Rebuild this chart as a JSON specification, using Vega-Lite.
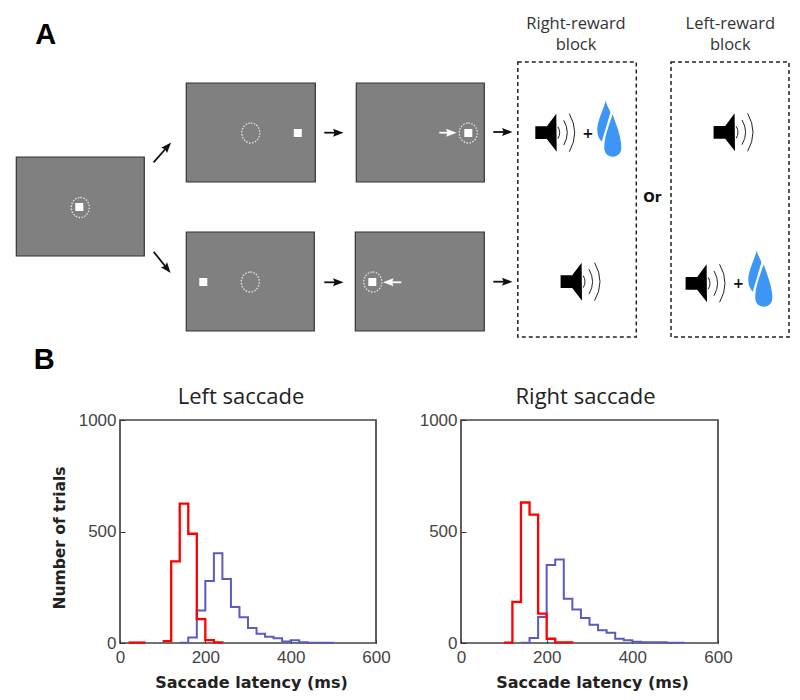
{"$schema":"https://vega.github.io/schema/vega-lite/v6.json","padding":0,"background":"white","spacing":50,"bounds":"flush","config":{"view":{"stroke":null},"axis":{"grid":false}},
"datasets":{
"panels":[{"x":16,"x2":144,"y":157,"y2":256},{"x":186,"x2":315,"y":83,"y2":182},{"x":356,"x2":484,"y":83,"y2":182},{"x":186,"x2":314,"y":232,"y2":331},{"x":355,"x2":484,"y":232,"y2":331}],
"stimuli":[{"x":79,"y":207},{"x":297.5,"y":133},{"x":468,"y":133},{"x":203,"y":282},{"x":372,"y":282}],
"fields":[{"x":80,"y":207.5},{"x":250.5,"y":133},{"x":468,"y":133},{"x":250,"y":282},{"x":372.5,"y":282}],
"arrows":[{"x":153.3,"y":162.3,"x2":167.3,"y2":146.5,"angle":-48,"tone":"dark"},{"x":153.3,"y":251.7,"x2":167,"y2":268.8,"angle":51,"tone":"dark"},{"x":324,"y":132.7,"x2":338,"y2":132.7,"angle":0,"tone":"dark"},{"x":324,"y":282.3,"x2":338,"y2":282.3,"angle":0,"tone":"dark"},{"x":493,"y":132,"x2":507,"y2":132,"angle":0,"tone":"dark"},{"x":493,"y":281.7,"x2":507,"y2":281.7,"angle":0,"tone":"dark"},{"x":439,"y":132.7,"x2":451,"y2":132.7,"angle":0,"tone":"light"},{"x":401,"y":282.3,"x2":388,"y2":282.3,"angle":180,"tone":"light"}],
"boxes":[{"x":517.5,"x2":636,"y":62,"y2":337},{"x":670.7,"x2":788.7,"y":62,"y2":337}],
"speakers":[{"x":555,"y":132.7},{"x":733.3,"y":132.3},{"x":580.3,"y":281.7},{"x":705.3,"y":283.3}],
"drops":[{"x":609,"y":128.7},{"x":760,"y":278.7}],
"labels":[{"x":575.7,"y":23.5,"text":"Right-reward"},{"x":575.7,"y":44.5,"text":"block"},{"x":730,"y":23.5,"text":"Left-reward"},{"x":730,"y":44.5,"text":"block"}],
"letters":[{"x":45.5,"y":35,"text":"A"},{"x":44,"y":360,"text":"B"}],
"small":[{"x":652,"y":198,"text":"Or"},{"x":587.7,"y":134,"text":"+"},{"x":738,"y":284,"text":"+"}],
"leftRed":[{"latency":20,"trials":2,"run":1},{"latency":60,"trials":2,"run":1},{"latency":100,"trials":8,"run":2},{"latency":120,"trials":366,"run":2},{"latency":140,"trials":625,"run":2},{"latency":160,"trials":490,"run":2},{"latency":180,"trials":107,"run":2},{"latency":200,"trials":13,"run":2},{"latency":220,"trials":3,"run":2},{"latency":240,"trials":0,"run":2}],
"leftBlue":[{"latency":140,"trials":1},{"latency":160,"trials":25},{"latency":180,"trials":146},{"latency":200,"trials":278},{"latency":220,"trials":403},{"latency":240,"trials":287},{"latency":260,"trials":161},{"latency":280,"trials":116},{"latency":300,"trials":67},{"latency":320,"trials":42},{"latency":340,"trials":28},{"latency":360,"trials":21},{"latency":380,"trials":7},{"latency":400,"trials":12},{"latency":420,"trials":3},{"latency":440,"trials":1},{"latency":500,"trials":0}],
"rightRed":[{"latency":60,"trials":1,"run":1},{"latency":100,"trials":2,"run":2},{"latency":120,"trials":184,"run":2},{"latency":140,"trials":630,"run":2},{"latency":160,"trials":576,"run":2},{"latency":180,"trials":132,"run":2},{"latency":200,"trials":19,"run":2},{"latency":220,"trials":3,"run":2},{"latency":260,"trials":0,"run":2}],
"rightBlue":[{"latency":140,"trials":1},{"latency":160,"trials":22},{"latency":180,"trials":117},{"latency":200,"trials":350},{"latency":220,"trials":374},{"latency":240,"trials":198},{"latency":260,"trials":150},{"latency":280,"trials":112},{"latency":300,"trials":82},{"latency":320,"trials":57},{"latency":340,"trials":46},{"latency":360,"trials":19},{"latency":380,"trials":12},{"latency":400,"trials":6},{"latency":420,"trials":3},{"latency":480,"trials":1},{"latency":520,"trials":0}]
},
"vconcat":[
{"width":800,"height":370,"encoding":{"x":{"field":"x","type":"quantitative","scale":{"domain":[0.7,800.7],"nice":false,"zero":false},"axis":null},"y":{"field":"y","type":"quantitative","scale":{"domain":[370,0],"nice":false,"zero":false},"axis":null}},
"layer":[
{"data":{"name":"panels"},"mark":{"type":"rect","fill":"#808080","stroke":"#333333","strokeWidth":1.2},"encoding":{"x2":{"field":"x2"},"y2":{"field":"y2"}}},
{"data":{"name":"stimuli"},"mark":{"type":"point","shape":"square","size":64,"filled":true,"color":"white","opacity":1}},
{"data":{"name":"fields"},"mark":{"type":"point","shape":"M0,-1 A0.9,1 0 1,1 0,1 A0.9,1 0 1,1 0,-1 Z","size":400,"filled":false,"stroke":"#e4e4e4","strokeWidth":1.3,"strokeDash":[1.5,1.5],"opacity":1}},
{"data":{"name":"arrows"},"mark":{"type":"rule","strokeWidth":1.8},"encoding":{"x2":{"field":"x2"},"y2":{"field":"y2"},"color":{"field":"tone","type":"nominal","scale":{"domain":["dark","light"],"range":["#111111","#ffffff"]},"legend":null}}},
{"data":{"name":"arrows"},"mark":{"type":"point","shape":"M1,0 L-1,-0.75 L-0.7,0 L-1,0.75 Z","size":110,"filled":true,"opacity":1},"encoding":{"x":{"field":"x2","type":"quantitative"},"y":{"field":"y2","type":"quantitative"},"angle":{"field":"angle","type":"quantitative","scale":null},"color":{"field":"tone","type":"nominal","scale":{"domain":["dark","light"],"range":["#111111","#ffffff"]},"legend":null}}},
{"data":{"name":"boxes"},"mark":{"type":"rect","fill":null,"stroke":"#222222","strokeWidth":1.5,"strokeDash":[4,3]},"encoding":{"x2":{"field":"x2"},"y2":{"field":"y2"}}},
{"data":{"name":"speakers"},"mark":{"type":"point","shape":"M-1,-0.32 L-0.42,-0.32 L0.05,-0.95 L0.07,0.95 L-0.42,0.32 L-1,0.32 Z","size":1600,"filled":true,"color":"#000000","opacity":1}},
{"data":{"name":"speakers"},"mark":{"type":"point","shape":"M0.13,-0.3 Q0.31,0 0.13,0.3 M0.42,-0.62 Q0.78,0 0.42,0.62 M0.7,-0.95 Q1.24,0 0.7,0.95","size":1600,"filled":false,"stroke":"#222222","strokeWidth":1,"opacity":1}},
{"data":{"name":"drops"},"mark":{"type":"point","shape":"M0.12,-0.52 C0.22,-0.2 0.43,0.25 0.43,0.68 C0.43,0.88 0.3,1 0.125,1 C-0.05,1 -0.18,0.88 -0.18,0.68 C-0.18,0.25 0.02,-0.2 0.12,-0.52 Z M-0.13,-1 C-0.08,-0.8 0.02,-0.68 0.04,-0.58 L-0.27,0.47 C-0.38,0.37 -0.43,0.2 -0.43,0.05 C-0.43,-0.3 -0.2,-0.7 -0.13,-1 Z","size":3136,"filled":true,"color":"#3d96f5","opacity":1}},
{"data":{"name":"labels"},"mark":{"type":"text","font":"Open Sans","fontSize":16.5,"color":"#333333"},"encoding":{"text":{"field":"text"}}},
{"data":{"name":"letters"},"mark":{"type":"text","font":"Liberation Sans","fontWeight":"bold","fontSize":29,"color":"#000000"},"encoding":{"text":{"field":"text"}}},
{"data":{"name":"small"},"mark":{"type":"text","font":"DejaVu Sans","fontWeight":"bold","fontSize":13.5,"color":"#111111"},"encoding":{"text":{"field":"text"}}}
]},
{"spacing":85,"bounds":"flush","hconcat":[
{"width":34,"height":223,"data":{"values":[{"a":0}]},"mark":{"type":"rule","opacity":0},"encoding":{}},
{"width":256,"height":223,"view":{"stroke":"#444444","strokeWidth":1.7},"title":{"text":"Left saccade","font":"Open Sans","fontSize":22,"fontWeight":"normal","color":"#222222","anchor":"middle","dx":-7,"offset":2},
"encoding":{"x":{"field":"latency","type":"quantitative","scale":{"domain":[0,600],"nice":false},"axis":{"values":[0,200,400,600],"title":"Saccade latency (ms)","titleX":131,"titleFont":"DejaVu Sans","titleFontWeight":"bold","titleFontSize":16,"titleColor":"#222222","titlePadding":9,"labelFont":"Liberation Sans","labelFontSize":17,"labelColor":"#444444","labelPadding":9,"tickSize":-3,"tickColor":"#333333","domain":false,"labelFlush":false}},
"y":{"field":"trials","type":"quantitative","scale":{"domain":[0,1000],"nice":false},"axis":{"values":[0,500,1000],"format":"d","title":"Number of trials","titleY":117.5,"titleFont":"DejaVu Sans","titleFontWeight":"bold","titleFontSize":15.5,"titleColor":"#222222","titlePadding":11,"labelFont":"Liberation Sans","labelFontSize":17,"labelColor":"#444444","labelPadding":9,"tickSize":-5,"tickColor":"#333333","domain":false}}},
"layer":[{"data":{"name":"leftBlue"},"mark":{"type":"line","interpolate":"step-after","color":"#5a5ac0","strokeWidth":2}},{"data":{"name":"leftRed"},"mark":{"type":"line","interpolate":"step-after","color":"#ff0000","strokeWidth":2.3},"encoding":{"detail":{"field":"run"}}}]},
{"width":257,"height":223,"view":{"stroke":"#444444","strokeWidth":1.7},"title":{"text":"Right saccade","font":"Open Sans","fontSize":22,"fontWeight":"normal","color":"#222222","anchor":"middle","dx":-4,"offset":2},
"encoding":{"x":{"field":"latency","type":"quantitative","scale":{"domain":[0,600],"nice":false},"axis":{"values":[0,200,400,600],"title":"Saccade latency (ms)","titleX":131,"titleFont":"DejaVu Sans","titleFontWeight":"bold","titleFontSize":16,"titleColor":"#222222","titlePadding":9,"labelFont":"Liberation Sans","labelFontSize":17,"labelColor":"#444444","labelPadding":9,"tickSize":-3,"tickColor":"#333333","domain":false,"labelFlush":false}},
"y":{"field":"trials","type":"quantitative","scale":{"domain":[0,1000],"nice":false},"axis":{"values":[0,500,1000],"format":"d","title":null,"labelFont":"Liberation Sans","labelFontSize":17,"labelColor":"#444444","labelPadding":9,"tickSize":-5,"tickColor":"#333333","domain":false}}},
"layer":[{"data":{"name":"rightBlue"},"mark":{"type":"line","interpolate":"step-after","color":"#5a5ac0","strokeWidth":2}},{"data":{"name":"rightRed"},"mark":{"type":"line","interpolate":"step-after","color":"#ff0000","strokeWidth":2.3},"encoding":{"detail":{"field":"run"}}}]}
]}
]}
